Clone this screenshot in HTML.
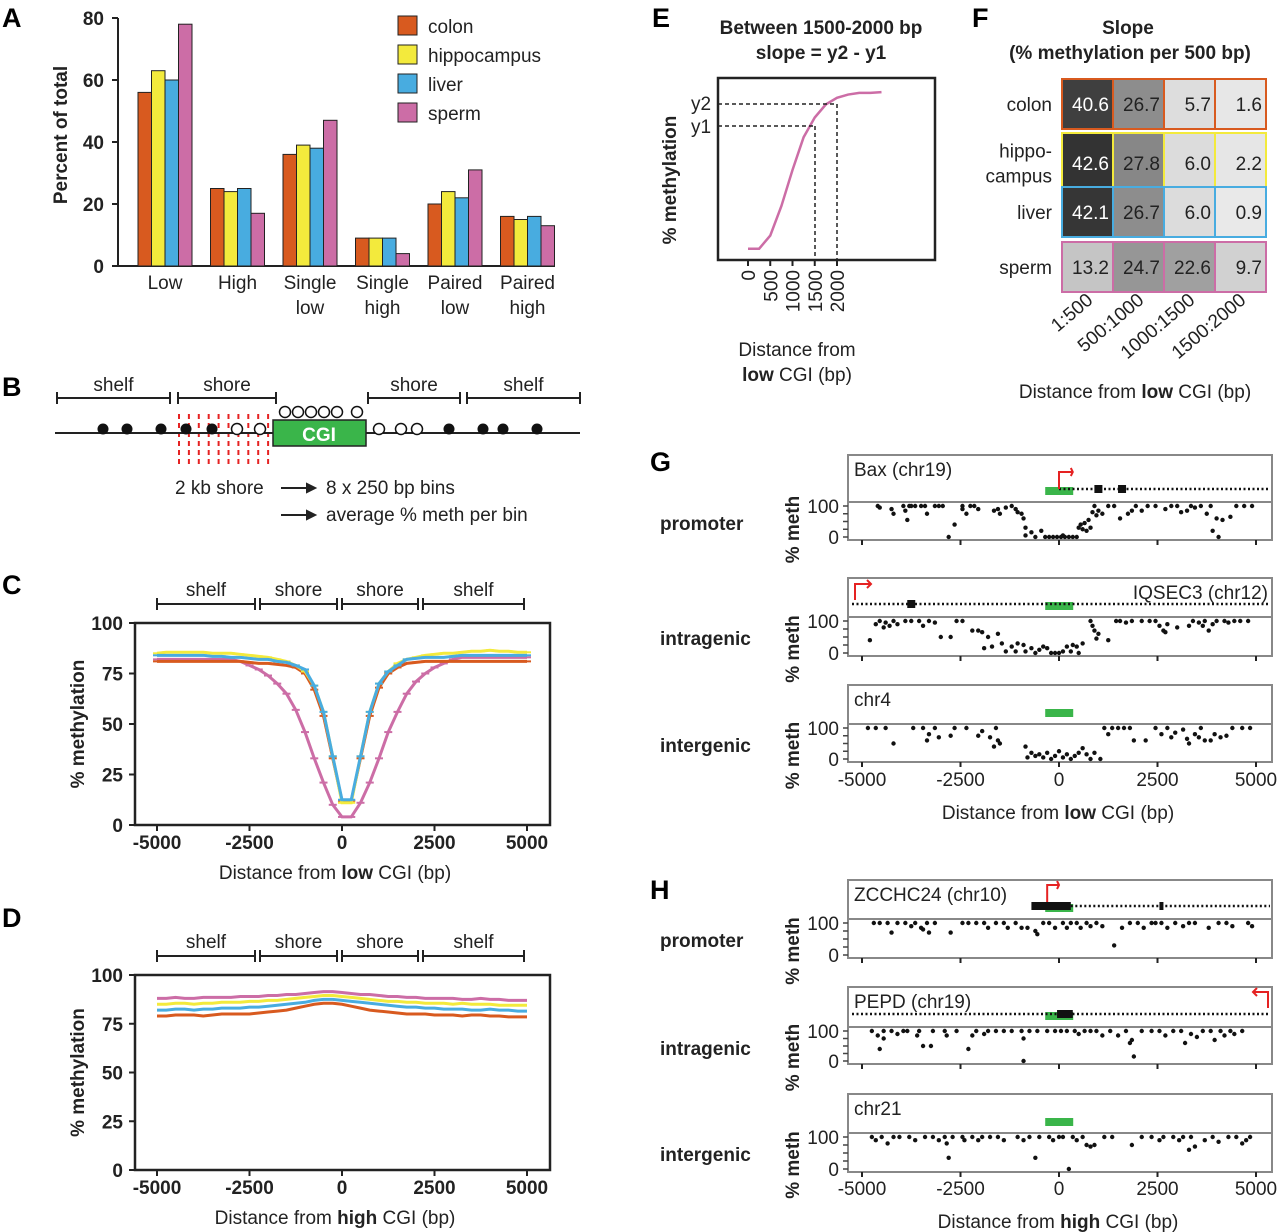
<!DOCTYPE html>
<html><head><meta charset="utf-8"><style>
html,body{margin:0;padding:0;background:#fff;}
svg{display:block;font-family:"Liberation Sans",Arial,sans-serif;}
.pl{font-size:27px;font-weight:bold;}
.t{font-size:19px;fill:#222;}
.tb{font-size:19px;font-weight:bold;fill:#222;}
</style></head><body>
<svg id="fig" xmlns="http://www.w3.org/2000/svg" width="1280" height="1232" viewBox="0 0 1280 1232">
<text class="pl" x="2" y="27">A</text>
<text class="pl" x="2" y="396">B</text>
<text class="pl" x="2" y="594">C</text>
<text class="pl" x="2" y="927">D</text>
<text class="pl" x="652" y="27">E</text>
<text class="pl" x="972" y="27">F</text>
<text class="pl" x="650" y="471">G</text>
<text class="pl" x="650" y="899">H</text>
<g id="gA"></g>
<g id="gB"></g>
<g id="gC"></g>
<g id="gD"></g>
<g id="gE"></g>
<g id="gF"></g>
<g id="gG"></g>
<g id="gH"></g>
</svg>
<script>
// ---------- data ----------
const tissues = ["colon","hippocampus","liver","sperm"];
const colors = ["#d85a1f","#f3ea3c","#48ace0","#cc6da6"];
const aCategories = [["Low"],["High"],["Single","low"],["Single","high"],["Paired","low"],["Paired","high"]];
const aColon = [56,25,36,9,20,16];
const aHippo = [63,24,39,9,24,15];
const aLiver = [60,25,38,9,22,16];
const aSperm = [78,17,47,4,31,13];
const aTicks = [0,20,40,60,80];

const profileTicks = [-5000,-2500,0,2500,5000];
const pctTicks = [0,25,50,75,100];
const cColon = [81,81,81,81,81,81,81,81,81,81,80.5,80,80,79.5,79,78,75,67,54,33,12,12,33,54,68,75,78,80,80.5,81,81,81,81,81,81,81,81,81,81,81,81];
const cHippo = [85,85.5,85.5,85.5,85.5,85.5,85,85,85,84.5,84,83.5,83,82,81,79,76,69,56,34,11,11,34,56,70,76,80,82,83,84,84.5,85,85,85.5,86,86,86.5,86,86,85.5,85.5];
const cLiver = [84,84,84,84,84,84,83.5,83.5,83,83,82.5,82,82,81,80.5,79,77,69,56,34,12.5,12.5,34,56,70,76,79,82,82.5,83,83,83,83.5,84,84,84,84,84,84,84,84];
const cSperm = [82,82,82,82,82,82,82,82,82,81,79,77,74,70,65,57,46,33,21,10,4,4,11,21,33,46,56,65,71,75,78,80,82,83,83,83,83,83,83,83,83];
const dColon = [79,79,79.5,79.5,79.5,79,79.5,80,80,80,80,80.5,81,81.5,82,83,84,85,85.5,85.5,85,84,83,82,81.5,81,80.5,80,80,80,79.5,79.5,79.5,79,79.5,79.5,79,79,78.5,78.5,78.5];
const dLiver = [82,82,82.5,82.5,82,82.5,82.5,83,83,83,83.5,83.5,84,84.5,85,85.5,86,87,87.5,87.5,87,86.5,86,85.5,85,84.5,84,83.5,83.5,83,83,82.5,82.5,82.5,82,82,82.5,82,82,81.5,81.5];
const dHippo = [85,85,85.5,85.5,85,85.5,85.5,86,86,86,86.5,86.5,87,87,87.5,88,88.5,89,89.5,89.5,89,88.5,88,87.5,87,86.5,86.5,86,86,85.5,85.5,85.5,85,85.5,85,85,85,84.5,84.5,84.5,84.5];
const dSperm = [88,88,88.5,88,88,88.5,88.5,88.5,88.5,89,89,89,89.5,89.5,90,90,90.5,91,91.5,91.5,91,90.5,90,90,89.5,89,89,88.5,88.5,88,88,88,88,87.5,87.5,88,87.5,87.5,87,87,87];

const fRows = ["colon","hippo-|campus","liver","sperm"];
const fCols = ["1:500","500:1000","1000:1500","1500:2000"];
const fColon = [40.6,26.7,5.7,1.6];
const fHippo = [42.6,27.8,6.0,2.2];
const fLiver = [42.1,26.7,6.0,0.9];
const fSperm = [13.2,24.7,22.6,9.7];

const eX = [0,250,500,750,1000,1250,1500,1750,2000,2250,2500,2750,3000];
const eY = [2,2,10,28,50,70,82,90,94,96,97,97,97.5];

const gBax = [[-4600,100],[-4550,95],[-4250,90],[-4200,75],[-3950,100],[-3900,85],[-3850,55],[-3800,100],[-3750,100],[-3650,100],[-3500,100],[-3400,100],[-3350,75],[-3150,100],[-3050,100],[-2950,100],[-2800,0],[-2650,40],[-2450,100],[-2450,90],[-2350,75],[-2250,100],[-2150,100],[-2050,90],[-1650,85],[-1550,90],[-1500,75],[-1350,95],[-1200,100],[-1100,90],[-1050,80],[-950,75],[-900,60],[-850,30],[-850,5],[-700,15],[-600,0],[-450,20],[-350,0],[-250,0],[-150,0],[-50,0],[50,0],[100,5],[150,0],[250,0],[350,0],[450,0],[500,30],[550,40],[600,25],[650,45],[700,20],[750,55],[800,30],[850,80],[900,100],[950,70],[1000,85],[1100,75],[1250,100],[1400,100],[1550,60],[1750,75],[1850,85],[1950,100],[2100,85],[2250,100],[2450,100],[2700,90],[2850,100],[3000,100],[3100,80],[3250,85],[3350,100],[3450,95],[3600,100],[3750,75],[3850,100],[3900,20],[4000,60],[4050,0],[4150,55],[4350,65],[4500,100],[4700,100],[4900,100]];
const gIqsec = [[-4800,40],[-4650,90],[-4550,100],[-4450,80],[-4400,95],[-4300,85],[-4200,100],[-4100,90],[-3900,100],[-3750,100],[-3550,100],[-3450,85],[-3300,100],[-3150,95],[-3000,50],[-2750,50],[-2600,100],[-2450,100],[-2200,70],[-2050,70],[-1950,65],[-1900,15],[-1800,50],[-1700,20],[-1550,60],[-1450,30],[-1350,5],[-1200,20],[-1100,5],[-1050,30],[-900,25],[-850,5],[-700,15],[-600,0],[-500,10],[-400,20],[-300,15],[-200,0],[-100,0],[0,0],[100,5],[200,20],[300,5],[350,25],[450,20],[500,0],[600,30],[800,100],[850,85],[900,70],[950,45],[1000,60],[1250,40],[1450,100],[1550,100],[1700,95],[1850,100],[2100,100],[2300,100],[2450,100],[2550,85],[2650,70],[2700,65],[2750,90],[3000,80],[3300,85],[3400,100],[3550,95],[3650,85],[3700,100],[3800,70],[3900,90],[4000,100],[4200,100],[4300,95],[4450,100],[4600,100],[4800,100]];
const gChr4 = [[-4850,100],[-4650,100],[-4400,100],[-4200,50],[-3700,100],[-3450,100],[-3350,60],[-3300,80],[-3150,100],[-3050,70],[-2750,75],[-2650,100],[-2350,100],[-2050,75],[-1950,90],[-1750,70],[-1650,40],[-1600,100],[-1550,60],[-1500,50],[-850,40],[-800,5],[-700,20],[-600,10],[-500,15],[-400,5],[-300,20],[-200,0],[-100,10],[0,25],[100,5],[200,15],[300,0],[400,10],[500,20],[600,35],[700,15],[800,0],[900,20],[1050,0],[1150,100],[1250,80],[1350,100],[1500,100],[1650,100],[1800,100],[1900,60],[2200,60],[2450,100],[2600,80],[2750,100],[2850,70],[2950,85],[3150,95],[3250,65],[3300,50],[3450,80],[3550,70],[3600,100],[3700,60],[3850,60],[3950,80],[4100,70],[4250,75],[4400,100],[4650,100],[4850,100]];
const hZcchc = [[-4700,100],[-4550,100],[-4350,100],[-4250,70],[-4100,100],[-3900,100],[-3750,90],[-3650,100],[-3500,85],[-3450,80],[-3350,100],[-3300,70],[-3150,100],[-2750,70],[-2450,100],[-2300,100],[-2100,100],[-1900,100],[-1800,85],[-1600,100],[-1400,100],[-1300,85],[-1100,100],[-950,85],[-800,85],[-600,75],[-550,65],[-400,100],[-250,100],[-100,85],[100,100],[200,85],[300,100],[450,100],[550,85],[700,100],[800,90],[950,100],[1100,90],[2450,100],[1400,30],[1600,85],[1800,100],[2000,100],[2150,85],[2350,100],[2600,100],[2750,85],[2950,100],[3150,90],[3300,100],[3450,100],[3800,85],[4050,100],[4250,100],[4400,90],[4800,100],[4900,90]];
const hPepd = [[-4750,100],[-4600,85],[-4450,100],[-4450,75],[-4550,40],[-4250,100],[-4100,90],[-3950,100],[-3850,100],[-3600,85],[-3550,100],[-3450,50],[-3250,50],[-3200,100],[-2900,100],[-2850,85],[-2600,100],[-2300,40],[-2200,85],[-2100,100],[-1900,90],[-1800,100],[-1600,100],[-1400,100],[-1200,100],[-950,100],[-900,75],[-900,0],[-750,100],[-550,100],[-300,100],[-100,100],[50,100],[200,100],[400,100],[500,90],[650,100],[800,100],[950,100],[1100,85],[1300,100],[1500,85],[1700,100],[1800,60],[1850,70],[1900,15],[2100,100],[2350,100],[2550,100],[2700,85],[2900,100],[3100,100],[3200,60],[3350,90],[3500,80],[3650,100],[3850,100],[3950,70],[4100,100],[4200,85],[4350,100],[4450,90],[4650,100]];
const hChr21 = [[-4750,100],[-4650,90],[-4500,100],[-4350,80],[-4200,100],[-4050,100],[-3800,100],[-3650,90],[-3400,100],[-3200,100],[-3050,90],[-2900,100],[-2850,80],[-2800,35],[-2700,100],[-2450,100],[-2400,90],[-2200,100],[-2050,90],[-1950,100],[-1750,100],[-1550,100],[-1400,90],[-1050,100],[-900,90],[-750,100],[-600,35],[-500,100],[-250,100],[-150,90],[0,100],[100,100],[250,0],[350,100],[450,90],[600,100],[700,75],[800,70],[900,75],[1150,100],[1350,100],[1850,75],[2100,100],[2350,100],[2550,90],[2650,100],[2900,100],[3050,90],[3150,100],[3300,60],[3350,100],[3450,70],[3700,90],[3900,100],[4050,85],[4300,100],[4500,100],[4650,80],[4750,90],[4850,100]];

// ---------- helpers ----------
const NS="http://www.w3.org/2000/svg";
function mk(tag,attrs,parent){const e=document.createElementNS(NS,tag);for(const k in attrs)e.setAttribute(k,attrs[k]);parent.appendChild(e);return e;}
function txt(s,attrs,parent){const e=mk('text',attrs,parent);e.textContent=s;return e;}
const linear=(d0,d1,r0,r1)=>v=>r0+(v-d0)/(d1-d0)*(r1-r0);

// ---------- Panel A ----------
(function(){
 const g=document.getElementById('gA');
 const y=linear(0,80,266,18);
 const ax=mk('path',{d:'M118,18 V266 M118,266 H555',stroke:'#222','stroke-width':2,fill:'none'},g);
 
 
 aTicks.forEach(t=>{
  const tk=mk('line',{x1:112,x2:118,y1:y(t),y2:y(t),stroke:'#222','stroke-width':2},g);
  
  
  const tl=txt(String(t),{x:104,y:y(t)+7,'text-anchor':'end',class:'tb'},g);
  
  
 });
 const yt=txt('Percent of total',{transform:'translate(67,135) rotate(-90)','text-anchor':'middle',class:'tb'},g);
 
 
 const series=[aColon,aHippo,aLiver,aSperm];
 const bw=13.5, gap=72.5, x0=138;
 aCategories.forEach((c,i)=>{
  series.forEach((s,j)=>{
   const bx=x0+i*gap+j*bw;
   const r=mk('rect',{x:bx,y:y(s[i]),width:bw,height:y(0)-y(s[i]),fill:colors[j],stroke:'#222','stroke-width':1},g);
   
   
  });
  c.forEach((line,k)=>{
   const l=txt(line,{x:x0+i*gap+bw*2,y:289+k*25,'text-anchor':'middle',class:'t'},g);
   
   
  });
 });
 tissues.forEach((t,j)=>{
  const r=mk('rect',{x:398,y:16+j*29,width:19,height:19,fill:colors[j],stroke:'#222','stroke-width':1},g);
  
  
  const l=txt(t,{x:428,y:33+j*29,class:'t'},g);
  
  
 });
})();

// ---------- Panel B ----------
(function(){
 const g=document.getElementById('gB');
 const brackets=[[57,170,'shelf'],[178,276,'shore'],[368,460,'shore'],[467,580,'shelf']];
 brackets.forEach(b=>{
  const p=mk('path',{d:`M${b[0]},398 H${b[1]} M${b[0]},392 V404 M${b[1]},392 V404`,stroke:'#222','stroke-width':2,fill:'none'},g);
  
  
  const l=txt(b[2],{x:(b[0]+b[1])/2,y:391,'text-anchor':'middle',class:'t'},g);
  
  
 });
 for(let i=0;i<10;i++){
  const xx=179+i*9.9;
  const d=mk('line',{x1:xx,x2:xx,y1:414,y2:466,stroke:'#e52222','stroke-width':2,'stroke-dasharray':'5,4'},g);
  
  
 }
 const ln=mk('line',{x1:55,x2:580,y1:433,y2:433,stroke:'#222','stroke-width':2},g);
 
 
 const cg=mk('rect',{x:273,y:420,width:93,height:26,fill:'#3ab54a',stroke:'#222','stroke-width':1.5},g);
 
 
 const ct=txt('CGI',{x:319,y:441,'text-anchor':'middle','font-size':19,'font-weight':'bold',fill:'#fff'},g);
 
 
 [103,127,161,186,212,449,483,503,537].forEach(x=>{
  const c=mk('circle',{cx:x,cy:429,r:5.5,fill:'#111'},g);
  
  
 });
 [237,260,379,401,417,285,298,311,324,337,357].forEach((x,i)=>{
  const c=mk('circle',{cx:x,cy:i<5?429:412,r:5.5,fill:'#fff',stroke:'#111','stroke-width':1.5},g);
  
  
 });
 const t1=txt('2 kb shore',{x:175,y:494,class:'t'},g);
 
 
 const t2=txt('8 x 250 bp bins',{x:326,y:494,class:'t'},g);
 
 
 const t3=txt('average % meth per bin',{x:326,y:521,class:'t'},g);
 
 
 [[281,488],[281,515]].forEach(a=>{
  const p=mk('path',{d:`M${a[0]},${a[1]} H${a[0]+32} M${a[0]+26},${a[1]-4} L${a[0]+34},${a[1]} L${a[0]+26},${a[1]+4}Z`,stroke:'#222','stroke-width':2,fill:'#222'},g);
  
  
 });
})();

// ---------- Panels C & D ----------
function profile(gid,top,bot,series,word,pfx){
 const g=document.getElementById(gid);
 const x=linear(-5000,5000,157,527), y=linear(0,100,bot,top);
 const br=[[157,255,'shelf'],[260,337,'shore'],[342,418,'shore'],[423,524,'shelf']];
 br.forEach(b=>{
  const p=mk('path',{d:`M${b[0]},${top-19} H${b[1]} M${b[0]},${top-25} V${top-13} M${b[1]},${top-25} V${top-13}`,stroke:'#222','stroke-width':2,fill:'none'},g);
  
  
  const l=txt(b[2],{x:(b[0]+b[1])/2,y:top-27,'text-anchor':'middle',class:'t'},g);
  
  
 });
 const box=mk('rect',{x:135,y:top,width:415,height:bot-top,fill:'none',stroke:'#222','stroke-width':2.5},g);
 
 
 pctTicks.forEach(t=>{
  const tk=mk('line',{x1:129,x2:135,y1:y(t),y2:y(t),stroke:'#222','stroke-width':2},g);
  
  
  const tl=txt(String(t),{x:123,y:y(t)+7,'text-anchor':'end',class:'tb'},g);
  
  
 });
 profileTicks.forEach(t=>{
  const tk=mk('line',{x1:x(t),x2:x(t),y1:bot,y2:bot+6,stroke:'#222','stroke-width':2},g);
  
  
  const tl=txt(String(t),{x:x(t),y:bot+24,'text-anchor':'middle',class:'tb'},g);
  
  
 });
 const yt=txt('% methylation',{transform:`translate(84,${(top+bot)/2}) rotate(-90)`,'text-anchor':'middle',class:'tb'},g);
 
 
 const xt=mk('text',{x:335,y:bot+54,'text-anchor':'middle',class:'t'},g);
 xt.innerHTML='Distance from <tspan font-weight="bold">'+word+'</tspan> CGI (bp)';
 
 
 series.forEach(s=>{
  const pts=s.vals.map((v,i)=>[x(-5000+i*250),y(v)]);
  const pl=mk('polyline',{points:pts.map(p=>p.join(',')).join(' '),fill:'none',stroke:s.color,'stroke-width':3},g);
  
  
  if(s.err){pts.forEach(p=>{
   const e=mk('line',{x1:p[0]-4,x2:p[0]+4,y1:p[1],y2:p[1],stroke:s.color,'stroke-width':2},g);
   
   
  });}
 });
}
profile('gC',623,825,[{name:'sperm',vals:cSperm,color:colors[3],err:1},{name:'colon',vals:cColon,color:colors[0],err:1},{name:'hippocampus',vals:cHippo,color:colors[1],err:1},{name:'liver',vals:cLiver,color:colors[2],err:1}],'low','c');
profile('gD',975,1170,[{name:'colon',vals:dColon,color:colors[0]},{name:'liver',vals:dLiver,color:colors[2]},{name:'hippocampus',vals:dHippo,color:colors[1]},{name:'sperm',vals:dSperm,color:colors[3]}],'high','d');

// ---------- Panel E ----------
(function(){
 const g=document.getElementById('gE');
 const x=linear(0,2000,748,837), y=linear(0,100,252,88);
 const t1=txt('Between 1500-2000 bp',{x:821,y:34,'text-anchor':'middle',class:'tb'},g);
 
 
 const t2=txt('slope = y2 - y1',{x:821,y:59,'text-anchor':'middle',class:'tb'},g);
 
 
 const box=mk('rect',{x:718,y:78,width:217,height:182,fill:'none',stroke:'#222','stroke-width':2.5},g);
 
 
 const pl=mk('polyline',{points:eX.map((v,i)=>x(v)+','+y(eY[i])).join(' '),fill:'none',stroke:colors[3],'stroke-width':2.5},g);
 
 
 const ds=mk('path',{d:`M718,104 H837 M718,126 H815 M815,126 V260 M837,104 V260`,stroke:'#222','stroke-width':1.5,'stroke-dasharray':'4,3',fill:'none'},g);
 
 
 const l2=txt('y2',{x:691,y:110,class:'t'},g);
 
 
 const l1=txt('y1',{x:691,y:133,class:'t'},g);
 
 
 const yt=txt('% methylation',{transform:'translate(676,180) rotate(-90)','text-anchor':'middle',class:'tb'},g);
 
 
 [0,500,1000,1500,2000].forEach(t=>{
  const tk=mk('line',{x1:x(t),x2:x(t),y1:260,y2:266,stroke:'#222','stroke-width':2},g);
  
  
  const tl=txt(String(t),{transform:`translate(${x(t)+7},270) rotate(-90)`,'text-anchor':'end',class:'t'},g);
  
  
 });
 const a1=txt('Distance from',{x:797,y:356,'text-anchor':'middle',class:'t'},g);
 
 
 const a2=mk('text',{x:797,y:381,'text-anchor':'middle',class:'t'},g);
 a2.innerHTML='<tspan font-weight="bold">low</tspan> CGI (bp)';
 
 
})();

// ---------- Panel F ----------
(function(){
 const g=document.getElementById('gF');
 const t1=txt('Slope',{x:1128,y:34,'text-anchor':'middle',class:'tb'},g);
 
 
 const t2=txt('(% methylation per 500 bp)',{x:1130,y:59,'text-anchor':'middle',class:'tb'},g);
 
 
 const rows=[fColon,fHippo,fLiver,fSperm];
 const ry=[79,133,187,242], rh=[50,60,50,50];
 const shade=v=>{const c=Math.max(40,Math.round(235-2.2*v-0.05*v*v));return `rgb(${c},${c},${c})`;};
 rows.forEach((r,i)=>{
  r.forEach((v,j)=>{
   const x0=1062+j*51;
   const c=mk('rect',{x:x0,y:ry[i],width:51,height:rh[i],fill:shade(v),stroke:colors[i],'stroke-width':2},g);
   
   
   const t=txt(v.toFixed(1),{x:x0+47,y:ry[i]+rh[i]/2+7,'text-anchor':'end',class:'t',style:v>35?'fill:#fff':''},g);
   
   
  });
  const parts=fRows[i].split('|');
  parts.forEach((p,k)=>{
   const l=txt(p,{x:1052,y:ry[i]+rh[i]/2+7+(k-(parts.length-1)/2)*25,'text-anchor':'end',class:'t'},g);
   
   
  });
 });
 fCols.forEach((c,j)=>{
  const l=txt(c,{transform:`translate(${1094+j*51},302) rotate(-40)`,'text-anchor':'end',class:'t'},g);
  
  
 });
 const a=mk('text',{x:1135,y:398,'text-anchor':'middle',class:'t'},g);
 a.innerHTML='Distance from <tspan font-weight="bold">low</tspan> CGI (bp)';
 
 
})();

// ---------- Panels G & H ----------
const x=linear(-5000,5000,862,1256);
function track(g,pfx,top,mid,bot,pts,label,labelRight,rowLabel,gene){
 const tb=mk('rect',{x:848,y:top,width:424,height:mid-top,fill:'#fff',stroke:'#888','stroke-width':2},g);
 
 
 const db=mk('rect',{x:848,y:mid,width:424,height:bot-mid,fill:'#fff',stroke:'#888','stroke-width':2},g);
 
 
 const gl=txt(label,{x:labelRight?1268:854,y:top+21,'text-anchor':labelRight?'end':'start',class:'t'},g);
 
 
 const cg=mk('rect',{x:x(-350),y:mid-15,width:28,height:8,fill:'#3ab54a'},g);
 
 
 if(gene){
  const gl2=mk('line',{x1:gene.from,x2:1270,y1:mid-13-gene.dy,y2:mid-13-gene.dy,stroke:'#111','stroke-width':2.5,'stroke-dasharray':'2,2.5'},g);
  
  
  gene.ex.forEach(e=>{
   const r=mk('rect',{x:e[0],y:mid-17-gene.dy,width:e[1],height:8,fill:'#111'},g);
   
   
  });
  const a=mk('path',{d:gene.arrow,stroke:'#e52222','stroke-width':2,fill:'none'},g);
  
  
 }
 const y=linear(0,100,bot-3,mid+4);
 [0,25,50,75,100].forEach(t=>{
  const tk=mk('line',{x1:843,x2:848,y1:y(t),y2:y(t),stroke:'#444','stroke-width':1.5},g);
  
  
 });
 [0,100].forEach(t=>{
  const tl=txt(String(t),{x:839,y:y(t)+7,'text-anchor':'end',class:'t'},g);
  
  
 });
 [-5000,-2500,0,2500,5000].forEach(t=>{
  const tk=mk('line',{x1:x(t),x2:x(t),y1:bot,y2:bot+5,stroke:'#222','stroke-width':2},g);
  
  
 });
 const yl=txt('% meth',{transform:`translate(799,${(top+bot)/2+32}) rotate(-90)`,'text-anchor':'middle',class:'tb'},g);
 
 
 const rl=txt(rowLabel,{x:660,y:mid+28,class:'tb'},g);
 
 
 pts.forEach(p=>{
  const c=mk('circle',{cx:x(p[0]),cy:y(p[1]),r:2.2,fill:'#111'},g);
  
  
 });
}
function axisX(g,pfx,yy,word){
 [-5000,-2500,0,2500,5000].forEach(t=>{
  const tl=txt(String(t),{x:x(t),y:yy,'text-anchor':'middle',class:'t'},g);
  
  
 });
 const a=mk('text',{x:1058,y:yy+33,'text-anchor':'middle',class:'t'},g);
 a.innerHTML='Distance from <tspan font-weight="bold">'+word+'</tspan> CGI (bp)';
 
 
}
(function(){
 const g=document.getElementById('gG');
 track(g,'g-promoter',455,502,540,gBax,'Bax (chr19)',false,'promoter',{from:x(0),dy:0,ex:[[x(1000)-4,8],[x(1600)-4,8]],arrow:`M${x(0)},489 V472 H${x(350)} M${x(300)},468 L${x(350)},472 L${x(300)},476`});
 track(g,'g-intragenic',578,617,656,gIqsec,'IQSEC3 (chr12)',true,'intragenic',{from:852,dy:0,ex:[[x(-3750)-4,8]],arrow:`M855,600 V584 H871 M867,580 L871,584 L867,588`});
 track(g,'g-intergenic',685,724,762,gChr4,'chr4',false,'intergenic',null);
 axisX(g,'g',786,'low');
})();
(function(){
 const g=document.getElementById('gH');
 track(g,'h-promoter',880,919,958,hZcchc,'ZCCHC24 (chr10)',false,'promoter',{from:x(300),dy:0,ex:[[x(-700),x(300)-x(-700)],[x(2600)-2,4]],arrow:`M${x(-300)},902 V885 H${x(0)} M${x(-50)},881 L${x(0)},885 L${x(-50)},889`});
 track(g,'h-intragenic',987,1027,1064,hPepd,'PEPD (chr19)',false,'intragenic',{from:852,dy:0,ex:[[x(-50),x(350)-x(-50)]],arrow:`M1268,1008 V992 H1253 M1257,988 L1253,992 L1257,996`});
 track(g,'h-intergenic',1094,1133,1172,hChr21,'chr21',false,'intergenic',null);
 axisX(g,'h',1195,'high');
})();
</script>
</body></html>
